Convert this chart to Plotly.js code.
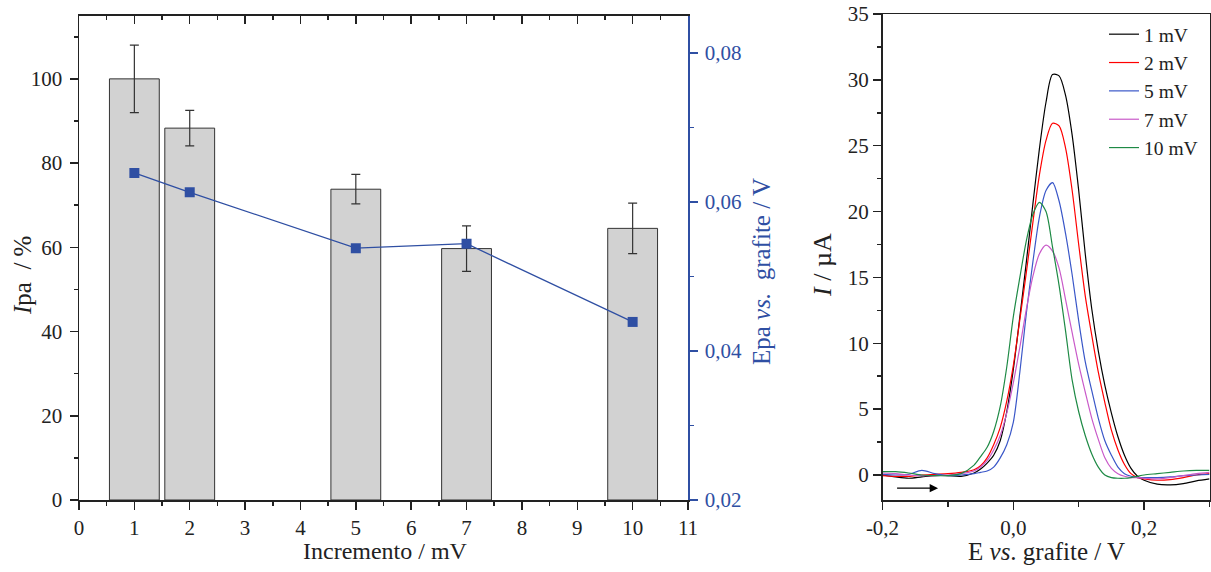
<!DOCTYPE html>
<html>
<head>
<meta charset="utf-8">
<script src="https://cdn.plot.ly/plotly-3.0.1.min.js"></script>
<style>html,body{margin:0;padding:0;background:#fff;}#chart{width:1211px;height:572px;}</style>
</head>
<body>
<div id="chart"></div>
<script>
// ---- Left panel data ----
const incrementos = [1, 2, 5, 7, 10];
const ipaPercent = [100, 88.3, 73.8, 59.7, 64.5];
const ipaErro = [8, 4.2, 3.5, 5.4, 6.0];
const epa = [0.0639, 0.0613, 0.0538, 0.0544, 0.0439];

// ---- Right panel data ----
const potencial = [-0.2, -0.18, -0.16, -0.14, -0.12, -0.10, -0.08, -0.06, -0.05, -0.04, -0.03, -0.02, -0.01, 0.0,
  0.01, 0.02, 0.03, 0.04, 0.05, 0.06, 0.07, 0.08, 0.09, 0.10, 0.11, 0.12, 0.13, 0.14, 0.15, 0.16, 0.17, 0.18, 0.19,
  0.20, 0.22, 0.24, 0.26, 0.28, 0.30];
const corrente1mV = [0.0, -0.15, -0.25, -0.15, -0.05, -0.05, -0.1, 0.15, 0.45, 0.9, 1.5, 2.6, 4.8, 8.0,
  12.0, 16.2, 20.6, 24.8, 28.3, 30.4, 30.3, 28.8, 25.8, 21.6, 16.8, 12.6, 9.4, 6.8, 4.7, 2.9, 1.5, 0.5, -0.1,
  -0.4, -0.7, -0.75, -0.65, -0.45, -0.3];
const corrente2mV = [-0.05, -0.1, -0.1, 0.0, 0.05, 0.1, 0.2, 0.4, 0.7, 1.3, 2.3, 3.6, 5.6, 8.3,
  11.8, 15.4, 19.2, 22.8, 25.4, 26.7, 26.5, 24.8, 21.6, 17.5, 13.6, 10.6, 7.8, 5.5, 3.4, 1.9, 0.8, 0.1, -0.2,
  -0.3, -0.4, -0.35, -0.2, 0.0, 0.1];
const corrente5mV = [0.05, 0.0, 0.05, 0.35, 0.1, -0.05, 0.0, 0.1, 0.2, 0.3, 0.6, 1.3, 2.3, 4.0,
  7.8, 12.3, 16.2, 19.6, 21.6, 22.2, 20.8, 18.3, 15.2, 11.7, 8.6, 6.4, 4.3, 2.6, 1.5, 0.6, 0.1, -0.1, -0.2,
  -0.2, -0.2, -0.15, -0.05, 0.0, 0.05];
const corrente7mV = [0.15, 0.1, 0.0, -0.05, -0.05, 0.0, 0.1, 0.3, 0.6, 1.1, 1.9, 3.0, 4.7, 7.0,
  9.7, 12.6, 15.1, 16.8, 17.45, 17.0, 15.7, 13.3, 10.8, 8.4, 6.3, 4.3, 2.7, 1.3, 0.5, 0.1, -0.1, -0.2, -0.2,
  -0.25, -0.3, -0.2, -0.05, 0.1, 0.2];
const corrente10mV = [0.25, 0.25, 0.15, 0.0, -0.05, -0.05, 0.1, 0.75, 1.4, 2.1, 3.3, 5.2, 8.2, 12.0,
  15.0, 17.8, 19.8, 20.7, 20.0, 17.3, 14.4, 10.9, 7.2, 4.8, 3.0, 1.6, 0.6, 0.0, -0.2, -0.25, -0.25, -0.2, -0.1,
  0.0, 0.1, 0.2, 0.3, 0.35, 0.35];
const serieNomes = ['1 mV', '2 mV', '5 mV', '7 mV', '10 mV'];
const serieCores = ['#000000', '#ff0000', '#3a57c8', '#c95ac9', '#1e8a45'];
const correntes = [corrente1mV, corrente2mV, corrente5mV, corrente7mV, corrente10mV];
const xTickVals = [-0.2, 0.0, 0.2];
const xTickText = ['-0,2', '0,0', '0,2'];

const FONT = 'Liberation Serif, Times New Roman, serif';
const AX = '#222222';
const BLUE = '#2f4fa3';
const TICKSIZE = 21;

const traces = [
  {
    type: 'bar', x: incrementos, y: ipaPercent, width: 0.9, xaxis: 'x', yaxis: 'y',
    marker: {color: '#d2d2d2', line: {color: '#333333', width: 1}},
    error_y: {type: 'data', array: ipaErro, visible: true, color: '#333333', thickness: 1.2, width: 4.5},
    showlegend: false, hoverinfo: 'skip'
  },
  {
    type: 'scatter', mode: 'lines+markers', x: incrementos, y: epa, xaxis: 'x', yaxis: 'y2',
    line: {color: BLUE, width: 1.3},
    marker: {symbol: 'square', size: 10, color: BLUE},
    showlegend: false, hoverinfo: 'skip'
  },
  { type: 'scatter', mode: 'lines', x: [], y: [], xaxis: 'x3', yaxis: 'y', showlegend: false, hoverinfo: 'skip' }
];
for (let i = 0; i < correntes.length; i++) {
  traces.push({
    type: 'scatter', mode: 'lines', x: potencial, y: correntes[i], name: serieNomes[i],
    xaxis: 'x2', yaxis: 'y3',
    line: {color: serieCores[i], width: 1.2, shape: 'spline', smoothing: 0.8},
    hoverinfo: 'skip'
  });
}

const yBot = 72 / 572;
const layout = {
  width: 1211, height: 572,
  margin: {l: 0, r: 0, t: 0, b: 0},
  paper_bgcolor: '#ffffff', plot_bgcolor: 'rgba(0,0,0,0)',
  separators: ',.',
  font: {family: FONT, size: TICKSIZE, color: AX},
  showlegend: true,
  legend: {
    x: 1104 / 1211, y: (572 - 15) / 572, xanchor: 'left', yanchor: 'top',
    bgcolor: 'rgba(0,0,0,0)', font: {family: FONT, size: 19.5, color: AX},
    tracegroupgap: 0, itemwidth: 30
  },
  xaxis: {
    domain: [79 / 1211, 688 / 1211], anchor: 'y', range: [0, 11],
    tickmode: 'linear', tick0: 0, dtick: 1,
    ticks: 'outside', ticklen: 8, tickwidth: 1.5, tickcolor: AX,
    minor: {ticks: 'outside', dtick: 0.5, tick0: 0, ticklen: 4, tickwidth: 1.5, tickcolor: AX},
    showline: true, linecolor: AX, linewidth: 1.5,
    showgrid: false, zeroline: false, fixedrange: true,
    tickfont: {family: FONT, size: TICKSIZE, color: AX}
  },
  xaxis3: {
    overlaying: 'x', side: 'top', anchor: 'y', range: [0, 11],
    tickmode: 'linear', tick0: 0, dtick: 1,
    ticks: 'inside', ticklen: 8, tickwidth: 1.5, tickcolor: AX,
    minor: {ticks: 'inside', dtick: 0.5, tick0: 0, ticklen: 4, tickwidth: 1.5, tickcolor: AX},
    showticklabels: false, showline: true, linecolor: AX, linewidth: 1.5,
    showgrid: false, zeroline: false, fixedrange: true
  },
  yaxis: {
    domain: [yBot, (572 - 15.7) / 572], anchor: 'x', range: [0, 115],
    tickmode: 'linear', tick0: 0, dtick: 20,
    ticks: 'outside', ticklen: 8, tickwidth: 1.5, tickcolor: AX,
    minor: {ticks: 'outside', dtick: 10, tick0: 0, ticklen: 4, tickwidth: 1.5, tickcolor: AX},
    showline: true, linecolor: AX, linewidth: 1.5,
    showgrid: false, zeroline: false, fixedrange: true, ticklabelstandoff: 3,
    tickfont: {family: FONT, size: TICKSIZE, color: AX}
  },
  yaxis2: {
    overlaying: 'y', side: 'right', anchor: 'x', range: [0.02, 0.085],
    tickmode: 'linear', tick0: 0.02, dtick: 0.02, tickformat: '.2f',
    ticks: 'outside', ticklen: 8, tickwidth: 1.5, tickcolor: BLUE,
    minor: {ticks: 'outside', dtick: 0.01, tick0: 0.02, ticklen: 4, tickwidth: 1.5, tickcolor: BLUE},
    showline: true, linecolor: BLUE, linewidth: 1.5,
    showgrid: false, zeroline: false, fixedrange: true, ticklabelstandoff: 3,
    tickfont: {family: FONT, size: TICKSIZE, color: BLUE}
  },
  xaxis2: {
    domain: [882.5 / 1211, 1209.5 / 1211], anchor: 'y3', range: [-0.2, 0.3],
    tickmode: 'array', tickvals: xTickVals, ticktext: xTickText,
    ticks: 'outside', ticklen: 8, tickwidth: 1.5, tickcolor: AX,
    minor: {tickmode: 'linear', ticks: 'outside', dtick: 0.1, tick0: 0, ticklen: 5, tickwidth: 1.5, tickcolor: AX},
    showline: true, mirror: true, linecolor: AX, linewidth: 1.5,
    showgrid: false, zeroline: false, fixedrange: true,
    tickfont: {family: FONT, size: TICKSIZE, color: AX}
  },
  yaxis3: {
    domain: [yBot, (572 - 14) / 572], anchor: 'x2', range: [-1.9, 35],
    tickmode: 'linear', tick0: 0, dtick: 5,
    ticks: 'outside', ticklen: 8, tickwidth: 1.5, tickcolor: AX,
    minor: {ticks: 'outside', dtick: 2.5, tick0: 0, ticklen: 4, tickwidth: 1.5, tickcolor: AX},
    showline: true, mirror: true, linecolor: AX, linewidth: 1.5,
    showgrid: false, zeroline: false, fixedrange: true, ticklabelstandoff: 0,
    tickfont: {family: FONT, size: TICKSIZE, color: AX}
  },
  annotations: [
    {text: 'Incremento / mV', xref: 'paper', yref: 'paper', x: 385 / 1211, y: (572 - 551) / 572,
     showarrow: false, xanchor: 'center', yanchor: 'middle', font: {family: FONT, size: 24, color: AX}},
    {text: '<i>I</i>pa  / %', xref: 'paper', yref: 'paper', x: 22 / 1211, y: (572 - 276) / 572,
     showarrow: false, textangle: -90, xanchor: 'center', yanchor: 'middle', font: {family: FONT, size: 25, color: AX}},
    {text: 'Epa <i>vs.</i>  grafite / V', xref: 'paper', yref: 'paper', x: 761 / 1211, y: (572 - 272) / 572,
     showarrow: false, textangle: -90, xanchor: 'center', yanchor: 'middle', font: {family: FONT, size: 25, color: BLUE}},
    {text: 'E <i>vs</i>. grafite / V', xref: 'paper', yref: 'paper', x: 1046 / 1211, y: (572 - 551) / 572,
     showarrow: false, xanchor: 'center', yanchor: 'middle', font: {family: FONT, size: 25, color: AX}},
    {text: '<i>I</i> / µA', xref: 'paper', yref: 'paper', x: 822 / 1211, y: (572 - 265) / 572,
     showarrow: false, textangle: -90, xanchor: 'center', yanchor: 'middle', font: {family: FONT, size: 26, color: AX}},
    {text: '', xref: 'x2', yref: 'y3', axref: 'x2', ayref: 'y3', x: -0.115, y: -1.0, ax: -0.18, ay: -1.0,
     showarrow: true, arrowhead: 2, arrowsize: 1.4, arrowwidth: 1.2, arrowcolor: '#000000'}
  ]
};

Plotly.newPlot('chart', traces, layout, {staticPlot: true, displayModeBar: false});
</script>
</body>
</html>
